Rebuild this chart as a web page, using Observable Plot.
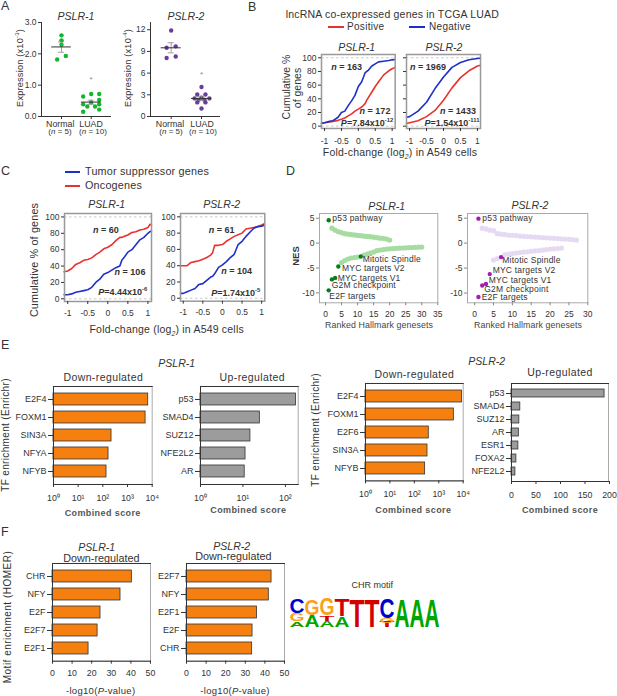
<!DOCTYPE html>
<html><head><meta charset="utf-8">
<script src="https://cdn.jsdelivr.net/npm/d3@7"></script>
<script src="https://cdn.jsdelivr.net/npm/@observablehq/plot@0.6"></script>
<style>
html,body{margin:0;padding:0;background:#fff}
#page{position:relative;width:617px;height:696px;overflow:hidden;font-family:"Liberation Sans",Arial,sans-serif;color:#333}
.t{position:absolute;white-space:nowrap;line-height:1}
sup,sub{font-size:65%;line-height:0}
svg{position:absolute;overflow:visible;background:transparent}
</style></head><body><div id="page"></div>
<script>
// ---------- Panel A ----------
const a1NormalX=[1,1,1,1.146,0.854], a1NormalY=[2.59,2.43,2.29,1.93,1.82];
const a1LuadX=[1.73,2,2.27,2.27,1.73,2,2.27,1.87,2.13,2.27,1.73], a1LuadY=[0.64,0.72,0.72,0.53,0.39,0.45,0.39,0.32,0.32,0.22,0.15];
const a2NormalX=[1,1.15,0.85,1.15,0.85], a2NormalY=[11.9,9.7,9.5,8.3,8.1];
const a2LuadX=[2,1.86,2.13,1.77,2,2.26,1.86,2.13,2,2.1,1.9], a2LuadY=[4.07,3.05,3.05,2.5,2.6,2.5,1.95,1.95,1.1,2.3,2.3];
const a1Summary={x:[1,2],mean:[2.22,0.46],lo:[2.05,0.39],hi:[2.38,0.52],star:[null,1.2]};
const a2Summary={x:[1,2],mean:[9.5,2.5],lo:[8.8,2.2],hi:[10.2,2.8],star:[null,6.0]};
// ---------- Panel B ----------
const b1X=[-1.09,-1,-0.85,-0.75,-0.6,-0.5,-0.4,-0.3,-0.2,-0.1,0,0.1,0.2,0.25,0.3,0.4,0.5,0.6,0.75,0.9,1,1.09];
const b1Red=[4,5,6,7,8.5,10,12,15,18,22,25,28,33,38,42,50,58,65,75,81,84,86];
const b1Blue=[4.5,5,7,8,13,20,22,30,37,45,58,65,78,80,82,88,91,94,95,96,97,97.5];
const b2X=[-1.09,-1,-0.75,-0.5,-0.25,0,0.25,0.5,0.75,1,1.09];
const b2Red=[4,5,8,14,23,38,56,71,81,88,89];
const b2Blue=[13,14,22,35,55,72,86,93,97,99,99.5];
// ---------- Panel C ----------
const c1X=[-1.09,-1,-0.9,-0.8,-0.7,-0.6,-0.5,-0.4,-0.3,-0.2,-0.1,0,0.1,0.2,0.3,0.35,0.4,0.5,0.6,0.7,0.8,0.9,1,1.05,1.09];
const c1Red=[33,34,37,42,44,47,48,50,54,57,61,63,66,71,75,75,76,78,81,82,84,85,87,91,90];
const c1Blue=[5,5,6,8,9,10,11,14,20,24,30,32,35,38,40,47,50,57,60,66,72,75,80,82,83];
const c2X=[-1.07,-1,-0.9,-0.8,-0.7,-0.6,-0.5,-0.4,-0.3,-0.25,-0.2,-0.1,0,0.1,0.2,0.3,0.4,0.5,0.6,0.7,0.8,0.9,1,1.07];
const c2Red=[40,40,40,44,45,46,48,50,53,56,65,65,66,70,73,76,78,80,85,86,87,88,90,91.5];
const c2Blue=[6,6,8,10,12,17,18,22,26,27,30,38,41,45,50,54,66,70,76,81,86,88,88.5,90];
// ---------- Panel D ----------
const dLabels=["p53 pathway","E2F targets","G2M checkpoint","MYC targets V1","MYC targets V2","Mitotic Spindle"];
const d1TopX=[1,1,2,3,4,11], d1TopY=[4.6,-9.5,-7.3,-7,-4.7,-2.7];
const d1PosX=[2,3,4,5,6,7,8,9,10,11,12,13,14,15,16,17,18,19,20];
const d1PosY=[3,2.6,2.3,2.1,1.9,1.8,1.7,1.65,1.55,1.5,1.4,1.35,1.3,1.2,1.1,1,0.95,0.8,0.6];
const d1NegX=[5,6,7,8,9,10,12,13,14,15,16,17,18,19,20,21,22,23,24,25,26,27,28,29,30];
const d1NegY=[-3.9,-3.5,-3.2,-3,-2.9,-2.8,-2.4,-2.2,-2,-1.8,-1.5,-1.4,-1.3,-1.2,-1.15,-1.1,-1.05,-1,-0.98,-0.95,-0.9,-0.88,-0.85,-0.82,-0.8];
const d2TopX=[1,1,2,3,4,7], d2TopY=[4.9,-10.8,-8.5,-8.2,-6.2,-2.8];
const d2PosX=[2,3,4,5,6,7,8,9,10,11,12,13,14,15,16,17,18,19,20,21,22,23,24,25,26,27];
const d2PosY=[3,2.85,2.6,2.5,1.9,1.8,1.7,1.6,1.55,1.5,1.4,1.35,1.3,1.25,1.2,1.15,1.1,1.05,1,0.95,0.9,0.85,0.8,0.75,0.7,0.6];
const d2NegX=[5,6,8,9,10,11,12,13,14,15,16,17,18,19,20,21,22,23];
const d2NegY=[-3.4,-3.1,-2.3,-2.2,-2.1,-2,-1.9,-1.8,-1.75,-1.65,-1.55,-1.5,-1.4,-1.3,-1.2,-1.15,-1.1,-1];
// ---------- Panel E ----------
const e1DownNames=["E2F4","FOXM1","SIN3A","NFYA","NFYB"], e1DownScore=[6900,5400,225,170,141];
const e1UpNames=["p53","SMAD4","SUZ12","NFE2L2","AR"], e1UpScore=[178,25,15,11.5,11];
const e2DownNames=["E2F4","FOXM1","E2F6","SIN3A","NFYB"], e2DownScore=[8900,4150,390,346,277];
const e2UpNames=["p53","SMAD4","SUZ12","AR","ESR1","FOXA2","NFE2L2"], e2UpScore=[190,18,16,15,14,10,8];
// ---------- Panel F ----------
const f1Names=["CHR","NFY","E2F","E2F7","E2F1"], f1Score=[40.5,34.7,24.5,23,18.4];
const f2Names=["E2F7","NFY","E2F1","E2F","CHR"], f2Score=[43.4,42,36,33.7,33.5];
// ---------- CHR motif ----------
const logoColumn=[1,1,1,2,2,3,3,3,4,4,5,6,7,7,7,8,9,10];
const logoLetter=["A","G","C","A","G","A","T","G","A","T","T","T","T","G","C","A","A","A"];
const logoBase=[0,0.2,0.5,0,0.43,0,0.21,0.41,0,0.39,0,0,0,0.14,0.32,0,0,0];
const logoHeight=[0.19,0.28,0.5,0.42,0.57,0.21,0.18,0.59,0.39,0.61,1,1,0.22,0.18,0.68,1,1,1];
const logoColors={A:"#00a600",C:"#0000cc",G:"#f9a11b",T:"#d40000"};

const page=document.getElementById("page");
const GRAY="#999", DARK="#333", FONT='"Liberation Sans",Arial,sans-serif';
const zip=(o)=>{const k=Object.keys(o);return o[k[0]].map((_,i)=>Object.fromEntries(k.map(n=>[n,o[n][i]])));};
function T(x,y,html,o={}){
  const d=document.createElement("div");d.className="t";d.innerHTML=html;
  const s=d.style;s.left=x+"px";s.top=y+"px";s.fontSize=(o.size||9)+"px";
  if(o.color)s.color=o.color;if(o.bold)s.fontWeight="bold";if(o.italic)s.fontStyle="italic";
  if(o.ls)s.letterSpacing=o.ls+"px";
  const tx=o.left?"0":"-50%";
  s.transform=`translate(${tx},-50%)`+(o.rot?` rotate(${o.rot}deg)`:"");
  page.appendChild(d);
}
function L(x1,x2,y,c){const d=document.createElement("div");d.style.cssText=`position:absolute;left:${x1}px;top:${Math.round(y-1)}px;width:${x2-x1}px;height:2px;background:${c}`;page.appendChild(d);}
function panel([l,t,r,b],opt,marks,m={}){
  const ml=m.l??45,mr=m.r??8,mt=m.t??4,mb=m.b??24;
  const svg=Plot.plot({width:r-l+ml+mr,height:b-t+mt+mb,marginLeft:ml,marginRight:mr,marginTop:mt,marginBottom:mb,
    style:{fontFamily:FONT,fontSize:(m.fs||8)+"px",color:DARK,background:"transparent",overflow:"visible"},...opt,marks});
  svg.style.left=(l-ml)+"px";svg.style.top=(t-mt)+"px";svg.style.position="absolute";
  page.appendChild(svg);
}
// ---- A ----
function panelA(rect,xd,yd,yt,nx,ny,lx,ly,sum,color){
  const s=zip(sum);
  panel(rect,{x:{domain:xd},y:{domain:yd}},[
    Plot.dot(zip({x:nx,y:ny}),{x:"x",y:"y",r:2.2,fill:color}),
    Plot.dot(zip({x:lx,y:ly}),{x:"x",y:"y",r:2.2,fill:color}),
    Plot.ruleX(s,{x:"x",y1:"lo",y2:"hi",stroke:"#888",strokeWidth:0.8}),
    Plot.ruleY(s,{y:"hi",x1:d=>d.x-0.1,x2:d=>d.x+0.1,stroke:"#888",strokeWidth:0.8}),
    Plot.ruleY(s,{y:"lo",x1:d=>d.x-0.1,x2:d=>d.x+0.1,stroke:"#888",strokeWidth:0.8}),
    Plot.ruleY(s,{y:"mean",x1:d=>d.x-0.33,x2:d=>d.x+0.33,stroke:"#333",strokeWidth:1}),
    Plot.text(s.filter(d=>d.star),{x:"x",y:"star",text:()=>"*",fontSize:8,fill:"#888",lineAnchor:"middle",dy:1}),
    Plot.axisY({ticks:yt,tickSize:3,tickPadding:2,stroke:DARK,label:null}),
    Plot.axisX({ticks:[1,2],tickSize:3,tickFormat:()=>"",label:null,stroke:DARK}),
    Plot.ruleX([xd[0]],{stroke:DARK,strokeWidth:1}),Plot.ruleY([yd[0]],{stroke:DARK,strokeWidth:1})
  ],{fs:8.5});
}
panelA([41,22,111,116],[0.326,2.685],[0,3],[0,1,2,3],a1NormalX,a1NormalY,a1LuadX,a1LuadY,a1Summary,"#13b52c");
panelA([150,22,220,116],[0.319,2.626],[0,13],[0,3,6,9,12],a2NormalX,a2NormalY,a2LuadX,a2LuadY,a2Summary,"#6a3d9a");
T(1,6,"A",{left:1,size:12.5});T(76,16,"PSLR-1",{italic:1,size:10.5});T(186,16,"PSLR-2",{italic:1,size:10.5});
T(21,68,"Expression (x10<sup>-3</sup>)",{rot:-90,size:9.2,ls:.2});T(129,68,"Expression (x10<sup>-4</sup>)",{rot:-90,size:9.2,ls:.2});
T(60.3,124,"Normal",{size:8.8});T(60,132,"(<i>n</i> = 5)",{size:8});T(91,124,"LUAD",{size:8.8});T(93,132,"(<i>n</i> = 10)",{size:8});
T(170,124,"Normal",{size:8.8});T(171,132,"(<i>n</i> = 5)",{size:8});T(202,124,"LUAD",{size:8.8});T(203,132,"(<i>n</i> = 10)",{size:8});
// ---- B, C ----
const RED="#e8322f",BLUE="#1f2fc8";
function cdf(rect,xd,yd,rows,showY,pad){
  panel(rect,{x:{domain:xd},y:{domain:yd}},[
    Plot.ruleY([0,100],{stroke:"#bbb",strokeDasharray:"2.5,2.5",strokeWidth:0.8}),
    Plot.line(rows,{x:"x",y:"r",stroke:RED,strokeWidth:1.6}),
    Plot.line(rows,{x:"x",y:"b",stroke:BLUE,strokeWidth:1.6}),
    Plot.frame({stroke:GRAY,strokeWidth:1.5}),
    Plot.axisY({ticks:[0,20,40,60,80,100],tickSize:3,tickPadding:2,stroke:DARK,label:null,tickFormat:showY?(d=>d):(()=>"")}),
    Plot.axisX({ticks:[-1,-0.5,0,0.5,1],tickSize:3,tickPadding:pad,stroke:DARK,label:null,tickFormat:d=>d===0?"0":String(d)})
  ],{fs:8.5});
}
cdf([321,54,394.7,128],[-1.09,1.09],[-3.4,104.8],zip({x:b1X,r:b1Red,b:b1Blue}),1,6);
cdf([406,54,480,128],[-1.09,1.09],[-3.4,104.8],zip({x:b2X,r:b2Red,b:b2Blue}),0,6);
T(248,7,"B",{left:1,size:12.5});
T(285.7,14,"lncRNA co-expressed genes in TCGA LUAD",{left:1,size:10.5,ls:.2});
L(327.7,344,27,RED);T(347,27,"Positive",{left:1,size:10,ls:.3});L(409,425,27,BLUE);T(429,27,"Negative",{left:1,size:10,ls:.3});
T(356.7,47,"PSLR-1",{italic:1,size:10.5});T(444,47,"PSLR-2",{italic:1,size:10.5});
T(285.7,87,"Cumulative %",{rot:-90,size:10.5});T(296.7,88,"of genes",{rot:-90,size:10.5});
T(346.7,67,"<i>n</i> = 163",{bold:1,size:9});T(375,111,"<i>n</i> = 172",{bold:1,size:9});T(367,123,"<i>P</i>=7.84x10<sup>-12</sup>",{bold:1,size:9});
T(428,67,"<i>n</i> = 1969",{bold:1,size:9});T(458,111,"<i>n</i> = 1433",{bold:1,size:9});T(452,123,"<i>P</i>=1.54x10<sup>-111</sup>",{bold:1,size:9});
T(400,152,"Fold-change (log<sub><i>2</i></sub>) in A549 cells",{size:10.5,ls:.2});

cdf([64,212.7,151,300.7],[-1.08,1.09],[-3.3,104.2],zip({x:c1X,r:c1Red,b:c1Blue}),2,5);
cdf([180,213,264.3,300.7],[-1.07,1.08],[-3.6,104.1],zip({x:c2X,r:c2Red,b:c2Blue}),2,5);
T(1,171,"C",{left:1,size:12.5});
L(65,80,172,BLUE);T(85,171,"Tumor suppressor genes",{left:1,size:10.8,ls:.2});
L(65,80,185.7,RED);T(85,185,"Oncogenes",{left:1,size:10.8,ls:.2});
T(106.7,204.3,"PSLR-1",{italic:1,size:10.5});T(221.7,204,"PSLR-2",{italic:1,size:10.5});
T(34,260,"Cumulative % of genes",{rot:-90,size:10.8,ls:.15});
T(106,230,"<i>n</i> = 60",{bold:1,size:9});T(130,271.7,"<i>n</i> = 106",{bold:1,size:9});T(122.7,292.3,"<i>P</i>=4.44x10<sup>-6</sup>",{bold:1,size:9});
T(221.7,230,"<i>n</i> = 61",{bold:1,size:9});T(236.7,270.7,"<i>n</i> = 104",{bold:1,size:9});T(235.7,292.7,"<i>P</i>=1.74x10<sup>-5</sup>",{bold:1,size:9});
T(166.7,329,"Fold-change (log<sub><i>2</i></sub>) in A549 cells",{size:10.5,ls:.2});
// ---- D ----
function gsea(rect,xd,yd,xt,top,pos,neg,dark,light){
  panel(rect,{x:{domain:xd},y:{domain:yd}},[
    Plot.dot(pos,{x:"x",y:"y",r:2.6,fill:light}),
    Plot.dot(neg,{x:"x",y:"y",r:2.6,fill:light}),
    Plot.dot(top,{x:"x",y:"y",r:2.2,fill:dark}),
    Plot.frame({stroke:"#aaa",strokeWidth:1}),
    Plot.axisY({ticks:[-10,-5,0,5],tickSize:3,tickPadding:2,stroke:"#888",label:null,tickFormat:d=>String(d)}),
    Plot.axisX({ticks:xt,tickSize:3,tickPadding:5,stroke:"#888",label:null})
  ],{fs:8.5});
}
gsea([319,212.7,437.3,302],[-1.87,35],[-12,5.95],[0,5,10,15,20,25,30,35],zip({x:d1TopX,y:d1TopY}),zip({x:d1PosX,y:d1PosY}),zip({x:d1NegX,y:d1NegY}),"#0b7a22","#a6dca2");
gsea([466.7,212.7,587,302],[-1.9,30],[-11.95,5.93],[0,5,10,15,20,25,30],zip({x:d2TopX,y:d2TopY}),zip({x:d2PosX,y:d2PosY}),zip({x:d2NegX,y:d2NegY}),"#a31db0","#e6daf3");
T(286,171,"D",{left:1,size:12.5});
T(386.7,206,"PSLR-1",{italic:1,size:10.5});T(530,205,"PSLR-2",{italic:1,size:10.5});
T(295.7,255.7,"NES",{rot:-90,bold:1,size:9.5});
T(379,325,"Ranked Hallmark genesets",{size:8.8,ls:.1,color:"#444"});T(528,325,"Ranked Hallmark genesets",{size:8.8,ls:.1,color:"#444"});
[[332.3,217.7,0],[329.3,295.7,1],[331.7,285.3,2],[337.7,278.3,3],[342,268.3,4],[362.7,259.3,5]].forEach(([x,y,i])=>T(x,y,dLabels[i],{left:1,size:8.5,ls:.2}));
[[482.3,218,0],[481.7,297.3,1],[484.3,289.3,2],[488.7,280,3],[492.7,270.3,4],[502.3,260.3,5]].forEach(([x,y,i])=>T(x,y,dLabels[i],{left:1,size:8.5,ls:.2}));
// ---- E, F ----
const ORANGE="#f5800f",BARGRAY="#9c9c9c";
const sup={0:"⁰",1:"¹",2:"²",3:"³",4:"⁴"};
const logFmt=d=>"10"+sup[Math.round(Math.log10(d))];
function bars(rect,names,vals,fill,xo,xt,xf,pad){
  const rows=zip({n:names,v:vals});
  const log=xo.type==="log";
  panel(rect,{x:xo,y:{domain:names,padding:0.36,align:0.5}},[
    Plot.barX(rows,{y:"n",x1:log?1:0,x2:"v",fill,stroke:"#333",strokeWidth:0.8}),
    Plot.frame({stroke:"#aaa",strokeWidth:1}),
    Plot.frame({anchor:"top",stroke:"#333",strokeWidth:1}),
    Plot.frame({anchor:"bottom",stroke:"#333",strokeWidth:1}),
    Plot.frame({anchor:"left",stroke:"#333",strokeWidth:1}),
    Plot.axisY({tickSize:5,tickPadding:2,stroke:"#333",label:null,fontSize:9}),
    Plot.axisX({ticks:xt,tickSize:3,tickPadding:pad,stroke:"#333",label:null,tickFormat:xf})
  ],{fs:8.8,l:48});
}
const LOG4={type:"log",domain:[1,10000]},LOG2={type:"log",domain:[1,200]};
bars([53.3,386,152,484],e1DownNames,e1DownScore,ORANGE,LOG4,[1,10,100,1000,10000],logFmt,7);
bars([200,386,297.7,484],e1UpNames,e1UpScore,BARGRAY,LOG2,[1,10,100],logFmt,7);
bars([365,383.3,462.7,480.7],e2DownNames,e2DownScore,ORANGE,LOG4,[1,10,100,1000,10000],logFmt,7);
bars([511,382.7,608,480.7],e2UpNames,e2UpScore,BARGRAY,{domain:[0,198]},[0,50,100,150,200],d=>String(d),7);
T(1,345,"E",{left:1,size:12.5});
T(176.7,363.3,"PSLR-1",{italic:1,size:10.5});T(486.7,360.7,"PSLR-2",{italic:1,size:10.5});
T(103.3,376.7,"Down-regulated",{size:10.5,ls:.4});T(252.3,377.3,"Up-regulated",{size:10.5,ls:.4});
T(414.3,374.3,"Down-regulated",{size:10.5,ls:.4});T(560,372.3,"Up-regulated",{size:10.5,ls:.4});
T(5.5,435,"TF enrichment (Enrichr)",{rot:-90,size:10,ls:.35});T(316,430,"TF enrichment (Enrichr)",{rot:-90,size:10,ls:.35});
[[102.7,513],[248.3,510.3],[413.3,510],[560,510]].forEach(([x,y])=>T(x,y,"Combined score",{size:9,ls:.4,bold:1,color:"#555"}));
const L50={domain:[0,50]};
bars([51.7,563.3,149.7,661],f1Names,f1Score,ORANGE,L50,[0,10,20,30,40,50],d=>String(d),6);
bars([186,563.3,284,661],f2Names,f2Score,ORANGE,L50,[0,10,20,30,40,50],d=>String(d),6);
T(1,532,"F",{left:1,size:12.5});
T(96.7,546.7,"PSLR-1",{italic:1,size:10.5});T(101.3,557.7,"Down-regulated",{size:10.8});
T(231.7,546,"PSLR-2",{italic:1,size:10.5});T(233.3,556.3,"Down-regulated",{size:10.8});
T(8.3,616.7,"Motif enrichment (HOMER)",{rot:-90,size:10,ls:.5});
T(100.7,690.7,"-log10(<i>P</i>-value)",{size:9.5,ls:.3});T(235,690.7,"-log10(<i>P</i>-value)",{size:9.5,ls:.3});
T(372.3,585,"CHR motif",{size:9});
// ---- Logo ----
const logoRows=zip({c:logoColumn,l:logoLetter,b:logoBase,h:logoHeight});
const logoW=15,logoH=28.4,logoFS=20;
panel([289,598.3,439,626.7],{x:{domain:[0.5,10.5],axis:null},y:{domain:[0,1],axis:null}},[
  Plot.text(logoRows,{x:"c",y:"b",text:"l",fill:d=>logoColors[d.l],fontSize:logoFS,fontWeight:"bold",textAnchor:"middle",
    render(index,scales,values,dim,ctx,next){
      const g=next(index,scales,values,dim,ctx);
      const nodes=[...g.querySelectorAll("text")];
      nodes.forEach((n,k)=>{
        const i=index[k],r=logoRows[i];
        const sy=(r.h*logoH)/(0.716*logoFS);
        const sx=logoW/({A:0.722,C:0.722,G:0.778,T:0.611}[r.l]*logoFS);
        n.removeAttribute("dy");n.setAttribute("y","0");
        n.setAttribute("transform",(n.getAttribute("transform")||"")+` scale(${sx},${sy})`);
      });
      return g;
    }})
],{l:2,r:2,t:2,b:2});
</script></body></html>
